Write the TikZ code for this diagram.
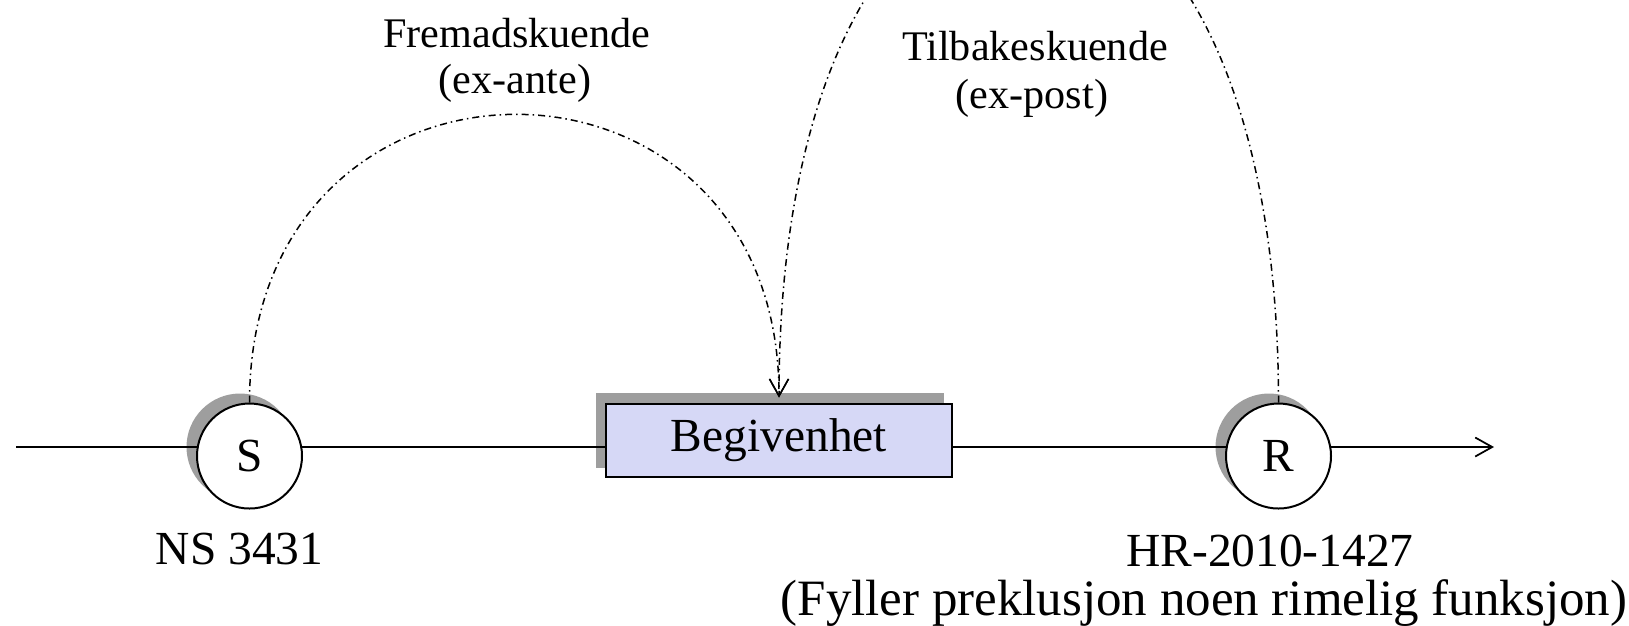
\documentclass[tikz,border=0pt]{standalone}
\usepackage{fontspec}
\setmainfont{Liberation Serif}
\usepackage{tikz}
\usetikzlibrary{arrows.meta}
\definecolor{eventfill}{RGB}{214,216,246}
\definecolor{shadegray}{RGB}{158,158,158}

\begin{document}
\begin{tikzpicture}[x=0.2mm, y=-0.2mm, >={Straight Barb[length=3.4mm,width=3.8mm]},
    ball/.style={circle, draw, line width=0.4mm, fill=white, minimum size=21mm, inner sep=0pt, font=\fontsize{27}{32}\selectfont},
    ballshade/.style={circle, fill=shadegray, minimum size=21.4mm, inner sep=0pt},
    event/.style={rectangle, draw, line width=0.4mm, fill=eventfill, minimum width=69.2mm, minimum height=14.6mm, inner sep=0pt, font=\fontsize{27}{32}\selectfont},
    eventshade/.style={rectangle, fill=shadegray, minimum width=69.6mm, minimum height=15mm, inner sep=0pt},
    flow/.style={line width=0.3mm, dash pattern=on 1.4mm off 0.8mm on 0.3mm off 0.8mm},
    tagtext/.style={anchor=base, font=\fontsize{27}{32}\selectfont},
    headtext/.style={anchor=base, font=\fontsize{24}{28}\selectfont}]
    \useasboundingbox (0,0) rectangle (1629,625);

    % Shadows
    \foreach \name/\x in {S/240, R/1269} {
        \node[ballshade] (shade\name) at (\x,447) {};
    }
    \node[eventshade] (shadeev) at (769.5,430) {};

    % Timeline
    \coordinate (tstart) at (16,447);
    \coordinate (tend) at (1494,447);
    \draw[line width=0.35mm, ->] (tstart) -- (tend);

    % Points on the line
    \node[ball] (S) at (249.5,456) {S};
    \node[event] (ev) at (779,440) {Begivenhet};
    \node[ball] (R) at (1278.5,456) {R};

    % Looking forward and backward
    \draw[flow, ->, shorten >=1mm] (S.north) .. controls +(0,-383) and +(0,-383) .. (ev.north);
    \draw[flow, ->, shorten >=1mm] (R.north) .. controls +(0,-687) and +(0,-687) .. (ev.north);

    % Labels
    \node[headtext] (fwd) at (517,47) {Fremadskuende};
    \node[headtext] (fwdsub) at (515,93) {(ex-ante)};
    \node[headtext] (bwd) at (1035,60) {Tilbakeskuende};
    \node[headtext] (bwdsub) at (1032,108) {(ex-post)};
    \node[tagtext] (ns) at (239.5,564) {NS 3431};
    \node[tagtext] (hr) at (1270,566) {HR-2010-1427};
    \node[tagtext, font=\fontsize{29}{34}\selectfont] (hrsub) at (1204,615) {(Fyller preklusjon noen rimelig funksjon)};
\end{tikzpicture}
\end{document}
